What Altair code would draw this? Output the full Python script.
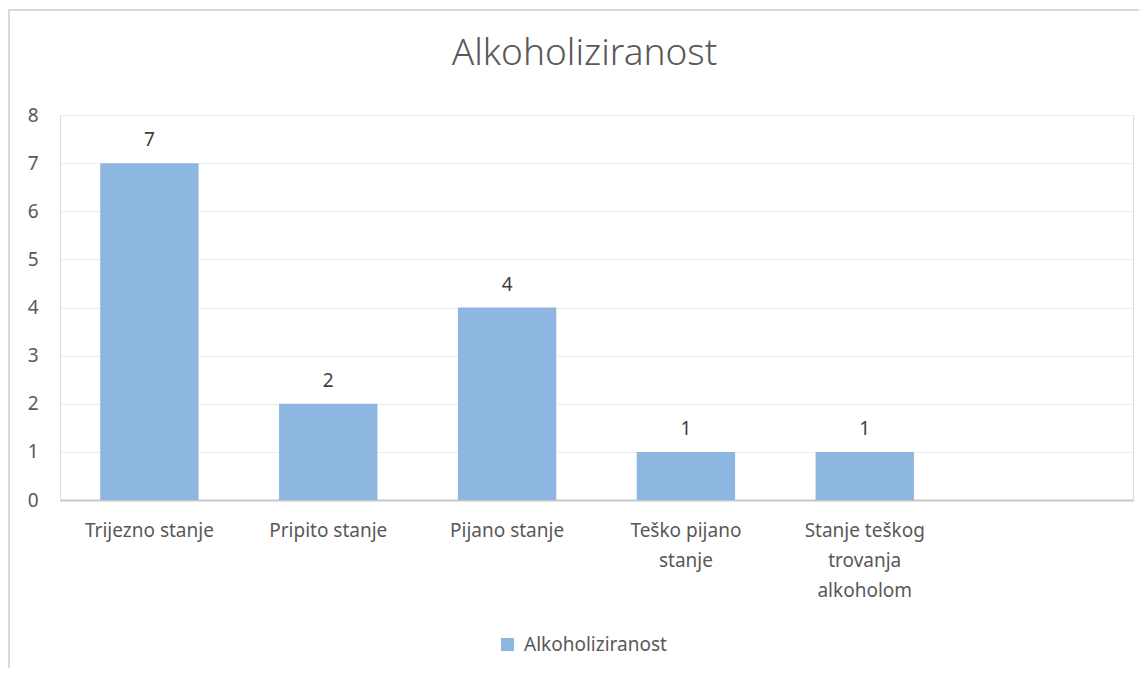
import altair as alt
import pandas as pd

categories = ["Trijezno stanje", "Pripito stanje", "Pijano stanje", "Teško pijano stanje",
              "Stanje teškog trovanja alkoholom"]
values = [7, 2, 4, 1, 1]
label_lines = {
    "Trijezno stanje": ["Trijezno stanje"],
    "Pripito stanje": ["Pripito stanje"],
    "Pijano stanje": ["Pijano stanje"],
    "Teško pijano stanje": ["Teško pijano", "stanje"],
    "Stanje teškog trovanja alkoholom": ["Stanje teškog", "trovanja", "alkoholom"],
}
y_ticks = [0, 1, 2, 3, 4, 5, 6, 7, 8]
series_name = "Alkoholiziranost"
domain = categories + ["_empty_"]

df = pd.DataFrame({"kategorija": categories, "broj": values, "serija": series_name})

FONT = "Noto Sans"
GREY = "#595959"
BAR = "#8db6e0"
FS = 19

label_expr = ("datum.value == '_empty_' ? '' : " +
              " : ".join([f"datum.value == '{k}' ? {v!r}" for k, v in label_lines.items()]) +
              " : datum.value")

x = alt.X("kategorija:N", scale=alt.Scale(domain=domain, paddingInner=0.45, paddingOuter=0.225),
          sort=domain,
          axis=alt.Axis(title=None, labelAngle=0, labelFont=FONT, labelFontSize=FS,
                        labelColor=GREY, labelPadding=21, labelLineHeight=30,
                        domainColor="#c8c8c8", domainWidth=2, ticks=False, grid=False,
                        labelExpr=label_expr, labelBaseline="top"))
y = alt.Y("broj:Q", scale=alt.Scale(domain=[0, 8]),
          axis=alt.Axis(title=None, values=y_ticks, labelFont=FONT,
                        labelFontSize=FS, labelColor=GREY, labelPadding=22, ticks=False,
                        labelOverlap=False, domain=False, gridColor="#ededed", gridWidth=1))

bars = alt.Chart(df).mark_bar(color=BAR).encode(
    x=x, y=y,
    color=alt.Color("serija:N", scale=alt.Scale(range=[BAR]),
                    legend=alt.Legend(title=None, orient="none", legendX=438, legendY=520,
                                      symbolType="square", symbolSize=170, symbolStrokeWidth=0,
                                      labelFont=FONT, labelFontSize=FS, labelColor=GREY,
                                      labelOffset=7))
)
text = alt.Chart(df).mark_text(font=FONT, fontSize=FS, color="#404040", baseline="bottom",
                               dy=-13).encode(x=x, y=y, text="broj:Q")

frame = alt.Chart(df).mark_rect(fill=None, stroke="#d9d9d9", strokeWidth=2).encode(
    x=alt.value(-51), x2=alt.value(1200), y=alt.value(-105), y2=alt.value(700))

chart = alt.layer(bars, text, frame).properties(
    width=1073, height=385,
    title=alt.TitleParams(series_name, font=FONT, fontSize=37, fontWeight=300,
                          color=GREY, anchor="middle", offset=-64, dx=-12),
    padding={"left": 52, "top": 107, "right": 6, "bottom": 168},
    autosize=alt.AutoSizeParams(type="none"),
).configure_view(stroke=None, clip=False).configure(background="white")

chart.save("out.html", embed_options={"renderer": "svg", "actions": False})
